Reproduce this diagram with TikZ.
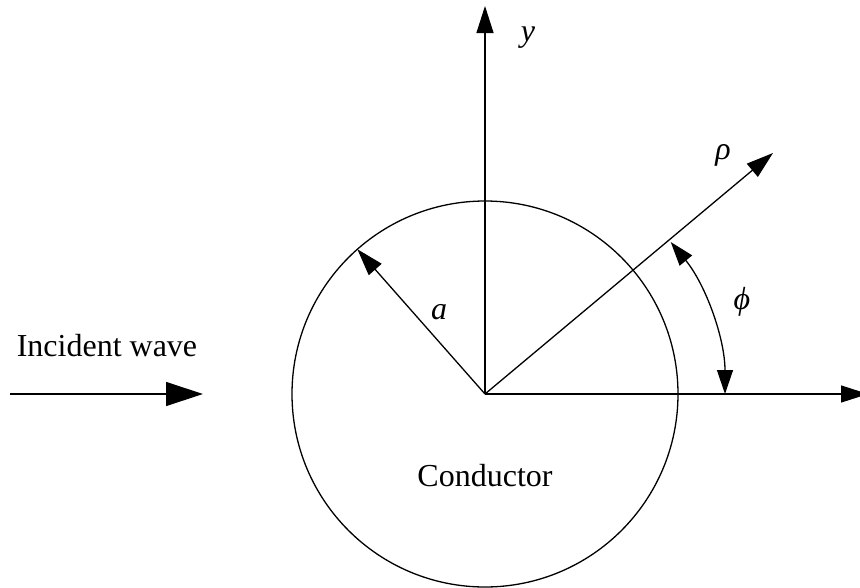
\documentclass[tikz,border=0pt]{standalone}
\usepackage{fontspec}
\setmainfont{Liberation Serif}
\usetikzlibrary{arrows.meta,calc}
\begin{document}
\begin{tikzpicture}[x=1pt,y=-1pt,line width=1.3pt,
  bigarrow/.style={-{Triangle[length=27pt,width=17pt]}},
  wavearrow/.style={-{Triangle[length=37pt,width=24pt]}},
  bothhead/.style={{Triangle[length=24pt,width=16pt]}-{Triangle[length=24pt,width=16pt]}},
  lbl/.style={font=\fontsize{32}{38}\selectfont,inner sep=0pt}]
\useasboundingbox (0,0) rectangle (860,587);
\coordinate (O) at (485,394);
\coordinate (ytip) at (485,6);
\coordinate (xtip) at (868,394);
\coordinate (rtip) at (773,153);
\coordinate (atip) at ($(O)+(131.4:193pt)$);
\coordinate (wstart) at (10,394);
\coordinate (wend) at (203,394);
\coordinate (arcA) at ($(O)+(0:240pt)$);
% conductor
\draw (O) circle[radius=193pt];
% axes
\draw[bigarrow] (O) -- (ytip);
\draw[bigarrow] (O) -- (xtip);
\draw[bigarrow] (O) -- (rtip);
\draw[bigarrow] (O) -- (atip);
% angle
\draw[bothhead] (arcA) arc[start angle=0,end angle=39.3,radius=240pt];
% incident wave
\draw[wavearrow] (wstart) -- (wend);
% labels
\node[lbl] (ylab) at (528,38) {\itshape y};
\node[lbl] (alab) at (439,312) {\itshape a};
\node[lbl] (rlab) at (723,155) {\itshape ρ};
\node[lbl] (plab) at (742,302) {\itshape ϕ};
\node[lbl] (clab) at (485,476) {Conductor};
\node[lbl] (wlab) at (107,346) {Incident wave};
\end{tikzpicture}
\end{document}
